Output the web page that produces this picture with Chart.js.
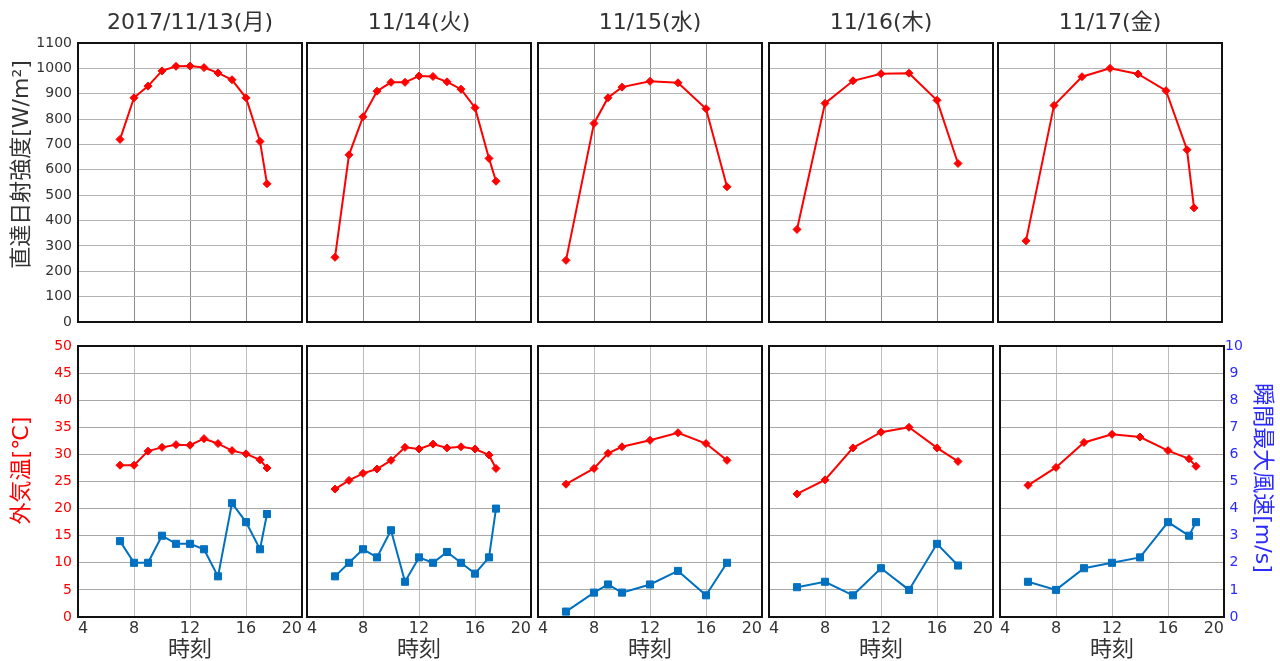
<!DOCTYPE html>
<html>
<head>
<meta charset="utf-8">
<title>日射・外気温・風速</title>
<script src="https://cdn.jsdelivr.net/npm/chart.js@4.4.1/dist/chart.umd.min.js"></script>
<style>
html, body { margin: 0; padding: 0; background: #fff; }
#wrap { position: relative; width: 1280px; height: 661px; overflow: hidden; }
#wrap canvas { position: absolute; left: 0; top: 0; }
</style>
</head>
<body>
<div id="wrap"></div>
<script>
// days (panel titles)
const days = ['2017/11/13(月)', '11/14(火)', '11/15(水)', '11/16(木)', '11/17(金)'];

// 11/13
const hours13 = [7, 8, 9, 10, 11, 12, 13, 14, 15, 16, 17, 17.5];
const solar13 = [720, 884, 930, 990, 1008, 1009, 1003, 982, 955, 884, 712, 545];
const temp13  = [28.0, 28.0, 30.6, 31.3, 31.8, 31.7, 32.9, 32.0, 30.7, 30.1, 29.0, 27.5];
const wind13  = [2.8, 2.0, 2.0, 3.0, 2.7, 2.7, 2.5, 1.5, 4.2, 3.5, 2.5, 3.8];

// 11/14
const hours14 = [6, 7, 8, 9, 10, 11, 12, 13, 14, 15, 16, 17, 17.5];
const solar14 = [255, 659, 809, 910, 945, 945, 970, 968, 947, 918, 845, 645, 555];
const temp14  = [23.6, 25.2, 26.5, 27.3, 28.9, 31.3, 31.0, 31.9, 31.2, 31.4, 31.0, 29.9, 27.4];
const wind14  = [1.5, 2.0, 2.5, 2.2, 3.2, 1.3, 2.2, 2.0, 2.4, 2.0, 1.6, 2.2, 4.0];

// 11/15
const hours15 = [6, 8, 9, 10, 12, 14, 16, 17.5];
const solar15 = [243, 783, 884, 926, 949, 943, 841, 533];
const temp15  = [24.5, 27.4, 30.2, 31.4, 32.6, 34.0, 32.0, 28.9];
const wind15  = [0.2, 0.9, 1.2, 0.9, 1.2, 1.7, 0.8, 2.0];

// 11/16
const hours16 = [6, 8, 10, 12, 14, 16, 17.5];
const solar16 = [365, 862, 951, 979, 981, 874, 625];
const temp16  = [22.7, 25.3, 31.2, 34.1, 35.0, 31.2, 28.7];
const wind16  = [1.1, 1.3, 0.8, 1.8, 1.0, 2.7, 1.9];

// 11/17
const hours17 = [6, 8, 10, 12, 14, 16, 17.5, 18];
const solar17 = [320, 854, 967, 1000, 978, 912, 679, 450];
const temp17  = [24.3, 27.6, 32.2, 33.7, 33.2, 30.7, 29.2, 27.8];
const wind17  = [1.3, 1.0, 1.8, 2.0, 2.2, 3.5, 3.0, 3.5];

const hours = [hours13, hours14, hours15, hours16, hours17];
const solar = [solar13, solar14, solar15, solar16, solar17];
const temp  = [temp13, temp14, temp15, temp16, temp17];
const wind  = [wind13, wind14, wind15, wind16, wind17];

// axis ranges
const xMin = 4, xMax = 20, xStep = 4;
const solarMax = 1100, solarStep = 100;
const tempMax = 50, tempStep = 5;
const windMax = 10, windStep = 1;

// layout
const W = 1280, H = 661;
const plotW = 224;
const topLeft = [78, 307, 538, 769, 998];
const botLeft = [78, 307, 538, 769, 1000];
const topTop = 43, topBottom = 322;
const botTop = 346, botBottom = 617;

const FONT = '"DejaVu Sans", "Noto Sans CJK JP", sans-serif';
const RED = '#ff0000';
const BLUE = '#0070c0';
const WIND_TXT = '#2b2bff';
const TXT = '#333333';

Chart.defaults.font.family = FONT;
Chart.defaults.color = TXT;

// black box round each plot area
const frame = {
    id: 'frame',
    afterDraw(chart) {
        const a = chart.chartArea;
        const ctx = chart.ctx;
        ctx.save();
        ctx.strokeStyle = '#111';
        ctx.lineWidth = 2;
        ctx.strokeRect(a.left, a.top, a.right - a.left, a.bottom - a.top);
        ctx.restore();
    }
};

const fixW = w => s => { s.width = w; };
const fixH = h => s => { s.height = h; };
const pts = (xs, ys) => xs.map((x, k) => ({ x: x, y: ys[k] }));
const plain = v => String(v);

const wrap = document.getElementById('wrap');
function newCanvas() {
    const c = document.createElement('canvas');
    c.width = W;
    c.height = H;
    wrap.appendChild(c);
    return c.getContext('2d');
}

const redLine = data => ({
    data: data,
    borderColor: RED,
    backgroundColor: RED,
    borderWidth: 2,
    pointStyle: 'rectRot',
    pointRadius: 4,
    pointBorderWidth: 1,
    tension: 0
});

// top row: direct solar irradiance
for (let i = 0; i < 5; i++) {
    const first = i === 0;
    new Chart(newCanvas(), {
        type: 'line',
        data: { datasets: [Object.assign(redLine(pts(hours[i], solar[i])), { xAxisID: 'x', yAxisID: 'y' })] },
        options: {
            responsive: false,
            animation: false,
            events: [],
            layout: { padding: { left: first ? 0 : topLeft[i], right: W - topLeft[i] - plotW, top: 0, bottom: H - topBottom } },
            plugins: { legend: { display: false }, tooltip: { enabled: false } },
            scales: {
                x: {
                    type: 'linear', position: 'bottom', min: xMin, max: xMax,
                    ticks: { display: false, stepSize: xStep },
                    grid: { color: '#8c8c8c', drawTicks: false },
                    border: { display: false },
                    afterFit: fixH(0)
                },
                t: {
                    type: 'linear', position: 'top', min: xMin, max: xMax,
                    ticks: { display: false },
                    grid: { display: false },
                    border: { display: false },
                    title: { display: true, text: days[i], color: TXT, font: { size: 22 }, padding: { top: 10, bottom: 0 } },
                    afterFit: fixH(topTop)
                },
                y: {
                    min: 0, max: solarMax,
                    ticks: { display: first, stepSize: solarStep, padding: 6, font: { size: 14 }, color: TXT, callback: plain },
                    grid: { color: '#b4b4b4', drawTicks: false },
                    border: { display: false },
                    title: { display: first, text: '\u3000  直達日射強度[W/m²]', color: TXT, font: { size: 22 }, padding: { top: 9, bottom: 0 } },
                    afterFit: fixW(first ? topLeft[0] : 0)
                }
            }
        },
        plugins: [frame]
    });
}

// bottom row: outdoor temperature + max gust
for (let i = 0; i < 5; i++) {
    const first = i === 0;
    const last = i === 4;
    new Chart(newCanvas(), {
        type: 'line',
        data: {
            datasets: [
                Object.assign(redLine(pts(hours[i], temp[i])), { xAxisID: 'x', yAxisID: 'y' }),
                {
                    data: pts(hours[i], wind[i]),
                    xAxisID: 'x',
                    yAxisID: 'y2',
                    borderColor: BLUE,
                    backgroundColor: BLUE,
                    borderWidth: 2,
                    pointStyle: 'rect',
                    pointRadius: 5,
                    pointBorderWidth: 1,
                    tension: 0
                }
            ]
        },
        options: {
            responsive: false,
            animation: false,
            events: [],
            layout: { padding: { left: first ? 0 : botLeft[i], right: last ? 0 : W - botLeft[i] - plotW, top: botTop, bottom: 0 } },
            plugins: { legend: { display: false }, tooltip: { enabled: false } },
            scales: {
                x: {
                    type: 'linear', position: 'bottom', min: xMin, max: xMax,
                    ticks: { stepSize: xStep, padding: 2, align: 'inner', font: { size: 16 }, color: TXT, maxRotation: 0 },
                    grid: { color: '#bdbdbd', drawTicks: false },
                    border: { display: false },
                    title: { display: true, text: '時刻', color: TXT, font: { size: 22, lineHeight: 1 }, padding: { top: 0, bottom: 0 } },
                    afterFit: fixH(H - botBottom)
                },
                y: {
                    min: 0, max: tempMax,
                    ticks: { display: first, stepSize: tempStep, padding: 6, font: { size: 14 }, color: RED },
                    grid: { color: '#a8a8a8', drawTicks: false },
                    border: { display: false },
                    title: { display: first, text: '\u3000外気温[℃]', color: RED, font: { size: 22 }, padding: { top: 9, bottom: 0 } },
                    afterFit: fixW(first ? botLeft[0] : 0)
                },
                y2: {
                    display: last,
                    position: 'right',
                    min: 0, max: windMax,
                    ticks: { stepSize: windStep, padding: 1, crossAlign: 'center', font: { size: 14 }, color: WIND_TXT },
                    grid: { display: false, drawTicks: false },
                    border: { display: false },
                    title: { display: true, text: '瞬間最大風速[m/s] ', color: WIND_TXT, font: { size: 22 }, padding: { top: 5, bottom: 0 } },
                    afterFit: fixW(last ? W - botLeft[4] - plotW : 0)
                }
            }
        },
        plugins: [frame]
    });
}
</script>
</body>
</html>
